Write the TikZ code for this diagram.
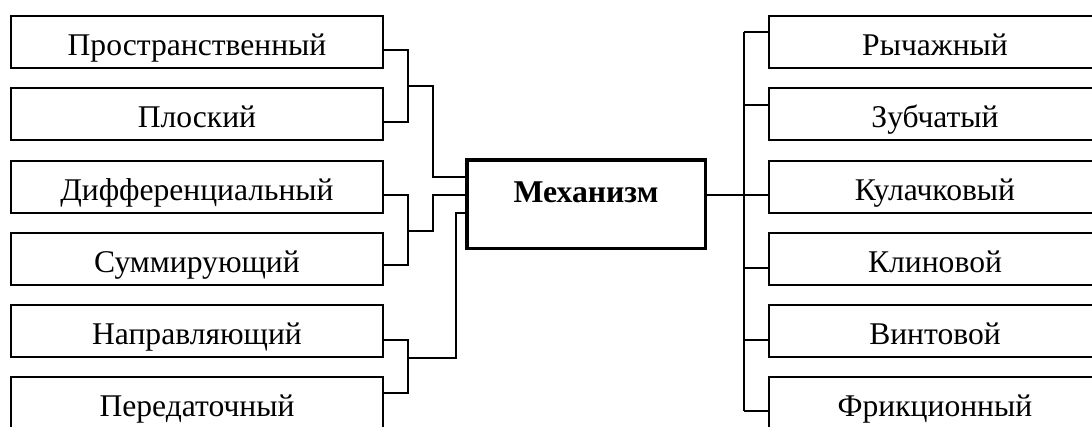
\documentclass[tikz,border=0pt]{standalone}
\usepackage{fontspec}
\setmainfont{Liberation Serif}
\usetikzlibrary{calc}
\begin{document}
\begin{tikzpicture}[x=1pt,y=-1pt,
  box/.style={draw, line width=2pt, minimum width=372pt, minimum height=52pt, inner sep=0pt,
    text height=27pt, text depth=0pt, font=\fontsize{31.6}{38}\selectfont},
  rbox/.style={box, minimum width=332pt},
  conn/.style={line width=1.6pt},
  mainbox/.style={draw, line width=3.5pt, minimum width=238.5pt, minimum height=88.5pt, inner sep=0pt,
    text height=10pt, text depth=14pt, font=\fontsize{31.7}{38}\selectfont\bfseries}]
\useasboundingbox (0,0) rectangle (1092,426);
\clip (0,0) rectangle (1092,426);
% left boxes
\node[box] (L1) at (197,41.5) {Пространственный};
\node[box] (L2) at (197,113.5) {Плоский};
\node[box] (L3) at (197,186.5) {Дифференциальный};
\node[box] (L4) at (197,258.5) {Суммирующий};
\node[box] (L5) at (197,330.5) {Направляющий};
\node[box] (L6) at (197,402.5) {Передаточный};
% right boxes
\node[rbox] (R1) at (935,41.5) {Рычажный};
\node[rbox] (R2) at (935,113.5) {Зубчатый};
\node[rbox] (R3) at (935,186.5) {Кулачковый};
\node[rbox] (R4) at (935,258.5) {Клиновой};
\node[rbox] (R5) at (935,330.5) {Винтовой};
\node[rbox] (R6) at (935,402.5) {Фрикционный};
% main
\node[mainbox] (M) at (586,204) {Механизм};
% left group 1
\draw[conn] (L1.east |- 0,50) -| (408,122) -- (L2.east |- 0,122);
\coordinate (J1) at (408,86);
\draw[conn] (J1) -- (433,86) |- (M.west |- 0,177);
% left group 2
\draw[conn] (L3.east |- 0,195) -| (408,265) -- (L4.east |- 0,265);
\coordinate (J2) at (408,231);
\draw[conn] (J2) -- (433,231) |- (M.west |- 0,195);
% left group 3
\draw[conn] (L5.east |- 0,340) -| (408,393) -- (L6.east |- 0,393);
\coordinate (J3) at (408,358);
\draw[conn] (J3) -- (456,358) |- (M.west |- 0,213);
% right side
\coordinate (T) at (744,32);
\coordinate (B) at (744,411);
\draw[conn] (M.east |- 0,195) -- (744,195);
\draw[conn] (T) -- (B);
\draw[conn] (T) -- (R1.west |- 0,32);
\draw[conn] (744,105) -- (R2.west |- 0,105);
\draw[conn] (744,195) -- (R3.west |- 0,195);
\draw[conn] (744,268) -- (R4.west |- 0,268);
\draw[conn] (744,340) -- (R5.west |- 0,340);
\draw[conn] (B) -- (R6.west |- 0,411);
\end{tikzpicture}
\end{document}
